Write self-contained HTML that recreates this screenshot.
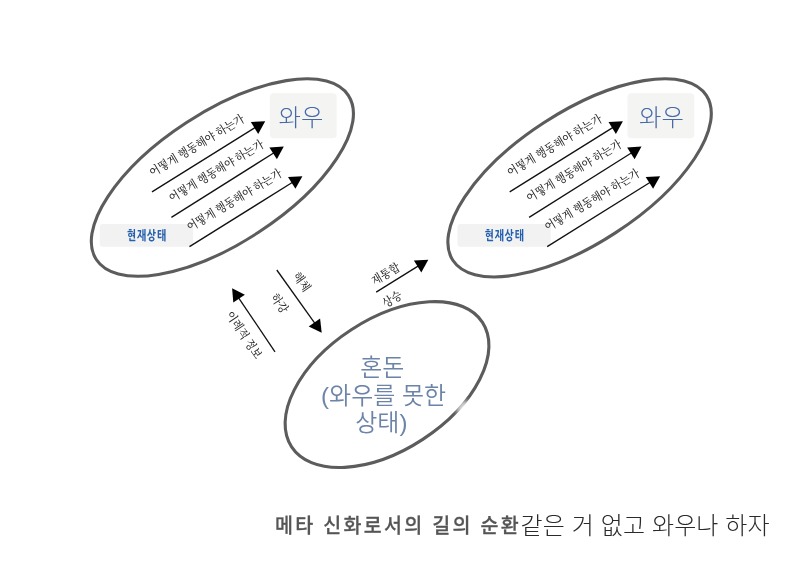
<!DOCTYPE html>
<html lang="ko">
<head>
<meta charset="utf-8">
<title>메타 신화로서의 길의 순환</title>
<style>
html,body{margin:0;padding:0;background:#fff;}
body{width:800px;height:566px;overflow:hidden;position:relative;}
svg{position:absolute;left:0;top:0;display:block;will-change:transform;opacity:0.999;}
.serif{font-family:"Liberation Serif","Noto Serif CJK KR","Noto Serif CJK SC","NanumMyeongjo",serif;}
.sans{font-family:"Liberation Sans","Noto Sans CJK KR","Noto Sans CJK SC","NanumGothic",sans-serif;}
.act{font-size:12px;font-weight:500;fill:#2b2b2b;}
.lab{font-size:12px;font-weight:500;fill:#2b2b2b;}
.wow{font-size:24.4px;font-weight:300;fill:#466aa8;}
.cur{font-family:"Liberation Sans","NanumGothic","Noto Sans CJK KR",sans-serif;font-size:13.2px;font-weight:800;fill:#255fae;letter-spacing:1.2px;}
.chaos{font-size:24px;font-weight:350;fill:#6c84a7;}
.cap1{font-size:20px;font-weight:500;fill:#555;stroke:#555;stroke-width:0.25px;letter-spacing:2.37px;}
.cap2{font-size:24px;font-weight:300;fill:#2a2a2a;letter-spacing:0.13px;}
</style>
</head>
<body>
<svg width="800" height="566" viewBox="0 0 800 566">
<defs><filter id="bl" x="-100%" y="-100%" width="300%" height="300%"><feGaussianBlur stdDeviation="2"/></filter></defs>
<g transform="translate(0,0)">
<ellipse cx="222.38" cy="177.51" rx="150.40" ry="65.67" transform="rotate(-33.03 222.38 177.51)" fill="none" stroke="#5c5c5c" stroke-width="3.1"/>
<rect x="269.8" y="93.3" width="66.8" height="45" rx="4" fill="#f4f4f2"/>
<text class="sans wow" x="301" y="126.2" text-anchor="middle">와우</text>
<rect x="99.8" y="223.9" width="93.2" height="22.9" rx="3" fill="#f2f2f2"/>
<text class="cur" transform="translate(147,239.8) scale(0.735,1)" text-anchor="middle">현재상태</text>
<line x1="152.0" y1="191.9" x2="255.4" y2="127.4" stroke="#111" stroke-width="1.3"/><polygon points="265.2,121.3 258.2,133.9 250.8,122.0" fill="#000"/>
<text class="serif act" transform="translate(152.5,176.9) rotate(-31) scale(0.89,1)">어떻게 행동해야 하는가</text>
<line x1="171.4" y1="217.4" x2="274.0" y2="152.8" stroke="#111" stroke-width="1.3"/><polygon points="283.8,146.6 276.9,159.2 269.4,147.4" fill="#000"/>
<text class="serif act" transform="translate(171.9,202.4) rotate(-31) scale(0.89,1)">어떻게 행동해야 하는가</text>
<line x1="189.5" y1="246.6" x2="292.6" y2="182.3" stroke="#111" stroke-width="1.3"/><polygon points="302.4,176.2 295.4,188.8 288.0,176.9" fill="#000"/>
<text class="serif act" transform="translate(190.0,231.6) rotate(-31) scale(0.89,1)">어떻게 행동해야 하는가</text>
</g>
<g transform="translate(357.7,0)">
<ellipse cx="221.88" cy="177.84" rx="151.20" ry="65.67" transform="rotate(-33.03 221.88 177.84)" fill="none" stroke="#5c5c5c" stroke-width="3.1"/>
<rect x="269.8" y="93.3" width="66.8" height="45" rx="4" fill="#f4f4f2"/>
<text class="sans wow" x="303.7" y="126.2" text-anchor="middle">와우</text>
<rect x="99.8" y="223.9" width="93.2" height="22.9" rx="3" fill="#f2f2f2"/>
<text class="cur" transform="translate(147,239.8) scale(0.735,1)" text-anchor="middle">현재상태</text>
<line x1="152.0" y1="191.9" x2="255.4" y2="127.4" stroke="#111" stroke-width="1.3"/><polygon points="265.2,121.3 258.2,133.9 250.8,122.0" fill="#000"/>
<text class="serif act" transform="translate(152.5,176.9) rotate(-31) scale(0.89,1)">어떻게 행동해야 하는가</text>
<line x1="171.4" y1="217.4" x2="274.0" y2="152.8" stroke="#111" stroke-width="1.3"/><polygon points="283.8,146.6 276.9,159.2 269.4,147.4" fill="#000"/>
<text class="serif act" transform="translate(171.9,202.4) rotate(-31) scale(0.89,1)">어떻게 행동해야 하는가</text>
<line x1="189.5" y1="246.6" x2="292.6" y2="182.3" stroke="#111" stroke-width="1.3"/><polygon points="302.4,176.2 295.4,188.8 288.0,176.9" fill="#000"/>
<text class="serif act" transform="translate(190.0,231.6) rotate(-31) scale(0.89,1)">어떻게 행동해야 하는가</text>
</g>
<line x1="276.8" y1="270.0" x2="314.9" y2="323.3" stroke="#111" stroke-width="1.3"/><polygon points="321.7,332.7 308.7,326.5 320.1,318.4" fill="#000"/>
<text class="serif lab" transform="translate(292.5,275.8) rotate(55) scale(0.89,1)">해체</text>
<text class="serif lab" transform="translate(270.3,297.3) rotate(55) scale(0.89,1)">하강</text>
<line x1="275.0" y1="351.8" x2="238.6" y2="297.8" stroke="#111" stroke-width="1.3"/><polygon points="232.1,288.2 244.9,294.7 233.3,302.6" fill="#000"/>
<text class="serif lab" transform="translate(225.5,314.8) rotate(56) scale(0.89,1)">이례적 정보</text>
<line x1="376.2" y1="292.1" x2="418.4" y2="265.9" stroke="#111" stroke-width="1.3"/><polygon points="428.3,259.8 421.3,272.4 413.9,260.5" fill="#000"/>
<text class="serif lab" transform="translate(374.5,285.6) rotate(-31) scale(0.89,1)">재통합</text>
<text class="serif lab" transform="translate(385.5,308.0) rotate(-31) scale(0.89,1)">상승</text>
<ellipse cx="387.03" cy="384.59" rx="113.95" ry="65.43" transform="rotate(-33.12 387.03 384.59)" fill="none" stroke="#5c5c5c" stroke-width="3.1"/>
<text class="sans chaos" x="382.3" y="376" text-anchor="middle">혼돈</text>
<text class="sans chaos" x="383.6" y="403.8" text-anchor="middle">(와우를 못한</text>
<text class="sans chaos" x="381.3" y="430.6" text-anchor="middle">상태)</text>
<ellipse cx="462.5" cy="407" rx="8" ry="4" transform="rotate(-50 462.5 407)" fill="#fff" opacity="0.8" filter="url(#bl)"/>
<text class="sans cap1" transform="translate(275,532.5) scale(0.975,1)">메타 신화로서의 길의 순환</text>
<text class="sans cap2" x="520.5" y="534">같은 거 없고 와우나 하자</text>
</svg>
</body>
</html>
